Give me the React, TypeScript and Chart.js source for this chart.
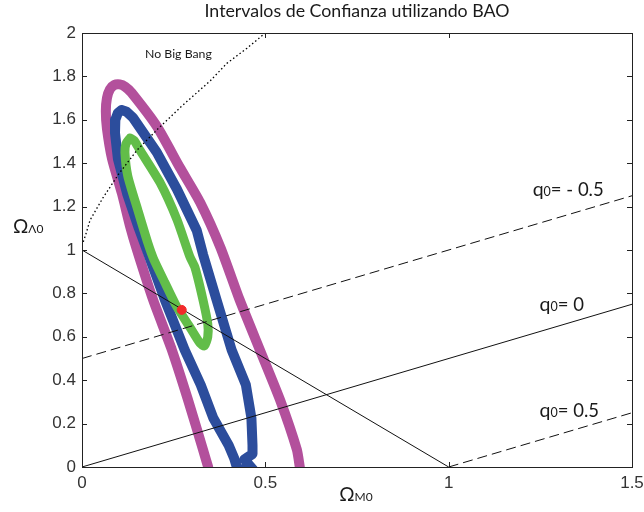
import React, { useEffect, useRef } from "react";
import { Chart, registerables } from "chart.js";

Chart.register(...registerables);

type Pt = [number, number];

// Axis ticks
const xTickValues = [0, 0.5, 1, 1.5];
const yTickValues = [0, 0.2, 0.4, 0.6, 0.8, 1, 1.2, 1.4, 1.6, 1.8, 2];

// Confidence contours in the (Ωm0, ΩΛ0) plane
const contour3sigma: Pt[] = [
  [0.344, 0.0], [0.33, 0.08], [0.289, 0.31], [0.245, 0.54], [0.194, 0.77],
  [0.15, 1.0], [0.131, 1.11], [0.109, 1.26], [0.082, 1.42], [0.068, 1.56],
  [0.065, 1.64], [0.068, 1.7], [0.076, 1.74], [0.088, 1.76], [0.103, 1.763],
  [0.118, 1.752], [0.135, 1.725], [0.204, 1.57], [0.267, 1.38], [0.322, 1.22],
  [0.378, 1.01], [0.43, 0.77], [0.485, 0.54], [0.54, 0.31], [0.586, 0.08],
  [0.594, 0.0],
];

const contour2sigma: Pt[] = [
  [0.108, 1.645], [0.098, 1.632], [0.091, 1.6], [0.09, 1.54], [0.098, 1.42],
  [0.123, 1.26], [0.155, 1.1], [0.177, 1.0], [0.226, 0.77], [0.28, 0.54],
  [0.324, 0.378], [0.358, 0.226], [0.4, 0.1], [0.415, 0.04], [0.424, -0.01],
  [0.466, -0.01], [0.443, 0.035], [0.465, 0.06], [0.465, 0.1], [0.462, 0.226],
  [0.447, 0.378], [0.408, 0.54], [0.367, 0.77], [0.33, 0.98], [0.313, 1.09],
  [0.259, 1.28], [0.204, 1.45], [0.139, 1.61], [0.122, 1.637], [0.108, 1.645],
];

const contour1sigma: Pt[] = [
  [0.131, 1.516], [0.12, 1.49], [0.117, 1.45], [0.125, 1.34], [0.153, 1.18],
  [0.18, 1.03], [0.195, 0.96], [0.226, 0.85], [0.258, 0.74], [0.294, 0.645],
  [0.322, 0.57], [0.334, 0.558], [0.343, 0.6], [0.343, 0.66], [0.33, 0.77],
  [0.308, 0.92], [0.294, 0.97], [0.259, 1.14], [0.213, 1.31], [0.158, 1.46],
  [0.142, 1.505], [0.131, 1.516],
];

const bestFit: Pt[] = [[0.272, 0.724]];

// Boundary of the region without a Big Bang
const noBigBang: Pt[] = [
  [0.0, 1.02], [0.01, 1.07], [0.022, 1.138], [0.057, 1.24], [0.1, 1.35],
  [0.15, 1.46], [0.204, 1.553], [0.27, 1.66], [0.35, 1.78], [0.395, 1.86],
  [0.45, 1.93], [0.5, 2.0],
];

// Flat universe (Ωm0 + ΩΛ0 = 1) and lines of constant deceleration q0
const flatUniverse: Pt[] = [[0, 1], [1, 0]];
const q0MinusHalf: Pt[] = [[0, 0.5], [1.5, 1.25]];
const q0Zero: Pt[] = [[0, 0], [1.5, 0.75]];
const q0PlusHalf: Pt[] = [[1, 0], [1.5, 0.25]];

const TITLE = "Intervalos de Confianza utilizando BAO";
const q0Labels = [
  { value: "= - 0.5", x: 1.229, y: 1.25 },
  { value: "= 0", x: 1.248, y: 0.72 },
  { value: "= 0.5", x: 1.248, y: 0.23 },
];

const SANS = "Lato, 'Open Sans', sans-serif";
const ARIAL = "'Liberation Sans', Arial, sans-serif";

const toXY = (pts: Pt[]) => pts.map(([x, y]) => ({ x, y }));

type Part = { t: string; size: number };

function drawRich(ctx: CanvasRenderingContext2D, x: number, y: number, parts: Part[], align: "left" | "center") {
  let total = 0;
  for (const p of parts) {
    ctx.font = `${p.size}px ${SANS}`;
    total += ctx.measureText(p.t).width;
  }
  let cx = align === "center" ? x - total / 2 : x;
  ctx.textAlign = "left";
  ctx.textBaseline = "alphabetic";
  for (const p of parts) {
    ctx.font = `${p.size}px ${SANS}`;
    ctx.fillText(p.t, cx, y);
    cx += ctx.measureText(p.t).width;
  }
}

const decorations = {
  id: "decorations",
  afterDraw(chart: any) {
    const { ctx, chartArea: a, scales } = chart;
    const xs = scales.x;
    const ys = scales.y;
    ctx.save();

    // frame
    ctx.strokeStyle = "#222";
    ctx.lineWidth = 1;
    ctx.strokeRect(Math.round(a.left) + 0.5, Math.round(a.top) + 0.5, Math.round(a.right - a.left), Math.round(a.bottom - a.top));

    // inward tick marks on all four sides
    const tl = 5;
    ctx.beginPath();
    for (const v of xTickValues) {
      const px = Math.round(xs.getPixelForValue(v)) + 0.5;
      ctx.moveTo(px, a.bottom);
      ctx.lineTo(px, a.bottom - tl);
      ctx.moveTo(px, a.top);
      ctx.lineTo(px, a.top + tl);
    }
    for (const v of yTickValues) {
      const py = Math.round(ys.getPixelForValue(v)) + 0.5;
      ctx.moveTo(a.left, py);
      ctx.lineTo(a.left + tl, py);
      ctx.moveTo(a.right, py);
      ctx.lineTo(a.right - tl, py);
    }
    ctx.stroke();

    ctx.fillStyle = "#1a1a1a";
    // title
    ctx.font = `17.8px ${SANS}`;
    ctx.textAlign = "center";
    ctx.textBaseline = "alphabetic";
    ctx.fillText(TITLE, (a.left + a.right) / 2, 17);

    // axis titles
    drawRich(ctx, 13, 233, [{ t: "Ω", size: 19 }, { t: "Λ0", size: 12 }], "left");
    drawRich(ctx, 356, 501, [{ t: "Ω", size: 19 }, { t: "M0", size: 12 }], "center");

    // deceleration labels
    for (const l of q0Labels) {
      drawRich(
        ctx,
        xs.getPixelForValue(l.x),
        ys.getPixelForValue(l.y),
        [{ t: "q", size: 19.5 }, { t: "0", size: 12.5 }, { t: l.value, size: 18.5 }],
        "left"
      );
    }

    // region label
    ctx.font = `12.3px ${SANS}`;
    ctx.textAlign = "left";
    ctx.fillText("No Big Bang", 145, 58);

    ctx.restore();
  },
};

const line = (data: Pt[], color: string, width: number, order: number, dash: number[] = [], tension = 0) => ({
  data: toXY(data),
  showLine: true,
  borderColor: color,
  backgroundColor: color,
  borderWidth: width,
  borderDash: dash,
  pointRadius: 0,
  pointHoverRadius: 0,
  tension,
  clip: 0,
  borderJoinStyle: "round" as const,
  borderCapStyle: "round" as const,
  order,
});

export default function App() {
  const canvasRef = useRef<HTMLCanvasElement | null>(null);

  useEffect(() => {
    const canvas = canvasRef.current;
    if (!canvas) return;
    const chart = new Chart(canvas, {
      type: "scatter",
      data: {
        datasets: [
          {
            data: toXY(bestFit),
            pointRadius: 4.5,
            pointBackgroundColor: "#f22a2a",
            pointBorderColor: "#f22a2a",
            showLine: false,
            clip: 0,
            order: 0,
          } as any,
          { ...line(flatUniverse, "#111", 1, 1), borderCapStyle: "butt" },
          { ...line(q0Zero, "#111", 1, 1), borderCapStyle: "butt" },
          { ...line(q0MinusHalf, "#111", 1, 1, [10, 5]), borderCapStyle: "butt" },
          { ...line(q0PlusHalf, "#111", 1, 1, [10, 5]), borderCapStyle: "butt" },
          { ...line(noBigBang, "#000", 1.3, 1, [1.5, 2.5]), borderCapStyle: "butt" },
          line(contour1sigma, "#62bd49", 9, 2, [], 0.2),
          line(contour2sigma, "#2c4d9c", 10, 3),
          line(contour3sigma, "#b3509c", 10, 4, [], 0.2),
        ],
      },
      options: {
        animation: false,
        responsive: false,
        events: [],
        layout: { padding: { top: 33, right: 0, left: 0, bottom: 0 } },
        plugins: {
          legend: { display: false },
          title: { display: false },
          tooltip: { enabled: false },
        },
        scales: {
          x: {
            type: "linear",
            min: 0,
            max: 1.5,
            afterFit: (s: any) => { s.height = 45; s.paddingRight = 12; s.paddingLeft = 0; },
            afterBuildTicks: (s: any) => { s.ticks = xTickValues.map((v) => ({ value: v })); },
            grid: { display: false, drawTicks: false },
            border: { display: false },
            ticks: {
              padding: 6,
              color: "#333",
              font: { family: ARIAL, size: 17 },
              maxRotation: 0,
              callback: (v: any) => String(Math.round(Number(v) * 10) / 10),
            },
          },
          y: {
            type: "linear",
            min: 0,
            max: 2,
            afterFit: (s: any) => { s.width = 82; s.paddingTop = 0; s.paddingBottom = 0; },
            afterBuildTicks: (s: any) => { s.ticks = yTickValues.map((v) => ({ value: v })); },
            grid: { display: false, drawTicks: false },
            border: { display: false },
            ticks: {
              padding: 6,
              color: "#333",
              font: { family: ARIAL, size: 17 },
              callback: (v: any) => String(Math.round(Number(v) * 10) / 10),
            },
          },
        },
      },
      plugins: [decorations],
    });
    return () => chart.destroy();
  }, []);

  return (
    <div style={{ position: "fixed", left: 0, top: 0, width: 644, height: 512, background: "#fff" }}>
      <canvas ref={canvasRef} width={644} height={512} />
    </div>
  );
}
